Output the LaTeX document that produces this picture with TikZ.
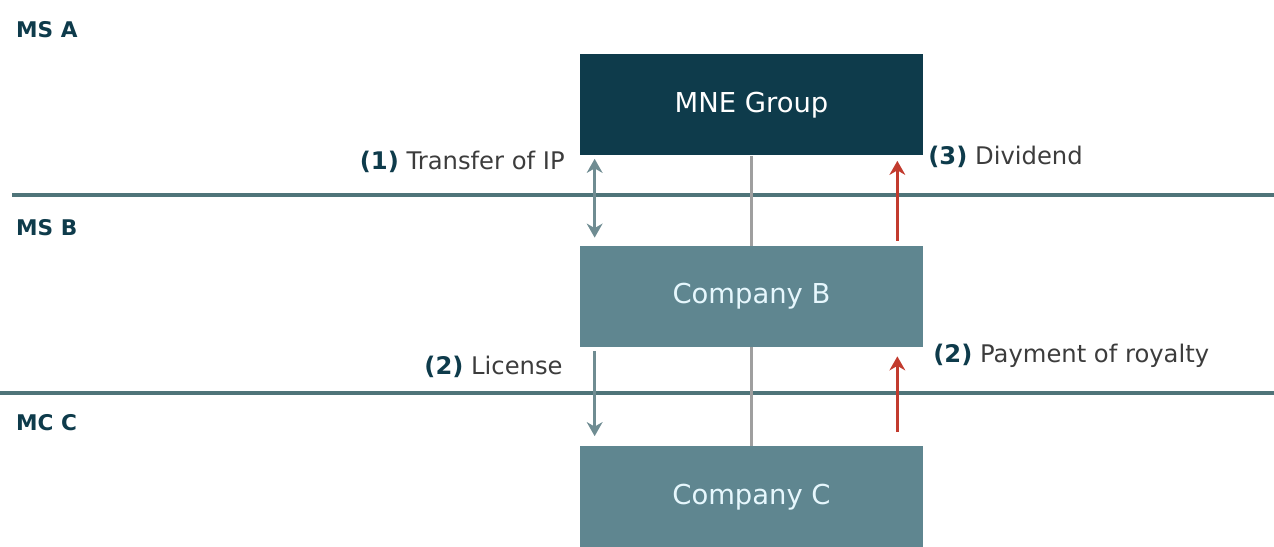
\documentclass[tikz,border=0pt]{standalone}
\usepackage{fontspec}
\setmainfont{DejaVu Sans}
\usepackage{tikz}
\usetikzlibrary{arrows.meta,positioning,calc}

\definecolor{navy}{HTML}{0E3B4B}
\definecolor{boxteal}{HTML}{5F8690}
\definecolor{rule}{HTML}{4F7479}
\definecolor{arrgray}{HTML}{6F8C92}
\definecolor{arrred}{HTML}{C23B2E}
\definecolor{txtgray}{HTML}{3C3C3C}

\tikzset{
  entity/.style={minimum width=6.86cm, minimum height=2.02cm, inner sep=0pt,
    font=\fontsize{15.6}{18}\selectfont},
  zone/.style={anchor=west, font=\bfseries\fontsize{12.3}{14}\selectfont, text=navy},
  flowlabel/.style={font=\fontsize{13.8}{16}\selectfont, text=txtgray, inner sep=0pt},
  grayflow/.style={draw=arrgray, line width=2pt},
  redflow/.style={draw=arrred, line width=2pt, -{Stealth[length=8pt,width=9pt]}}
}

\begin{document}
\begin{tikzpicture}
\useasboundingbox (0,0) rectangle (25.48,10.94);
% jurisdiction borders
\draw[rule, line width=2.2pt] (0.24,7.04) -- (25.48,7.04);
\draw[rule, line width=2.2pt] (0,3.08) -- (25.48,3.08);
\node[zone] (msa) at (0.2,10.34) {MS A};
\node[zone] (msb) at (0.2,6.38) {MS B};
\node[zone] (mcc) at (0.2,2.48) {MC C};
% entities
\node[entity, fill=navy, text=white] (mne) at (15.03,8.84) {MNE Group};
\node[entity, fill=boxteal, text=white!90!cyan] (compb) at (15.03,5.01) {Company B};
\node[entity, fill=boxteal, text=white!90!cyan] (compc) at (15.03,1.0) {Company C};
\draw[gray!75, line width=1.5pt] (mne.south) -- (compb.north);
\draw[gray!75, line width=1.5pt] (compb.south) -- (compc.north);
% flows
\draw[grayflow, {Stealth[length=8pt,width=9pt]}-{Stealth[length=8pt,width=9pt]},
  shorten <=0.06cm, shorten >=0.16cm]
  ([xshift=0.3cm]mne.south west) -- ([xshift=0.3cm]compb.north west);
\draw[redflow, shorten <=0.1cm, shorten >=0.1cm]
  ([xshift=-0.52cm]compb.north east) -- ([xshift=-0.52cm]mne.south east);
\draw[grayflow, -{Stealth[length=8pt,width=9pt]}, shorten <=0.08cm, shorten >=0.2cm]
  ([xshift=0.3cm]compb.south west) -- ([xshift=0.3cm]compc.north west);
\draw[redflow, shorten <=0.28cm, shorten >=0.18cm]
  ([xshift=-0.52cm]compc.north east) -- ([xshift=-0.52cm]compb.south east);
% labels
\node[flowlabel, anchor=east] (l1) at (11.3,7.7) {\textbf{\textcolor{navy}{(1)}} Transfer of IP};
\node[flowlabel, anchor=west] (l3) at (18.56,7.8) {\textbf{\textcolor{navy}{(3)}} Dividend};
\node[flowlabel, anchor=east] (l2a) at (11.26,3.6) {\textbf{\textcolor{navy}{(2)}} License};
\node[flowlabel, anchor=west] (l2b) at (18.66,3.82) {\textbf{\textcolor{navy}{(2)}} Payment of royalty};
\end{tikzpicture}
\end{document}
